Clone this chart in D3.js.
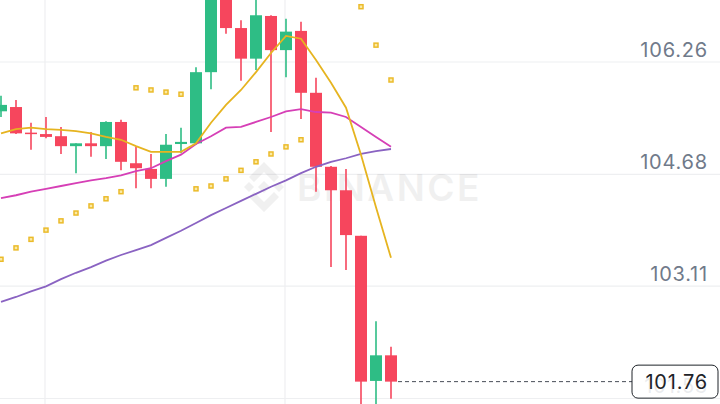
<!DOCTYPE html>
<html><head><meta charset="utf-8">
<script src="https://cdn.jsdelivr.net/npm/d3@7"></script>
<style>html,body{margin:0;padding:0;background:#fff;overflow:hidden}svg{display:block;font-family:Inter,Roboto,"Noto Sans",sans-serif}</style>
</head><body><svg id="c" width="720" height="404"></svg>
<script>
// ---- data ----
const categories = d3.range(27).map(i => "K" + (i + 1));
const open  = [105.56,105.62,105.26,105.24,105.21,105.07,105.11,105.07,105.41,104.83,104.75,104.61,105.10,105.11,106.11,107.25,106.73,106.30,106.90,106.42,106.69,105.82,104.78,104.45,103.81,101.77,102.13];
const close = [105.65,105.25,105.24,105.20,105.07,105.11,105.07,105.41,104.85,104.76,104.61,105.09,105.13,106.11,107.25,106.73,106.30,106.91,106.42,106.68,105.82,104.78,104.45,103.82,101.76,102.13,101.76];
const high  = [105.78,105.72,105.40,105.48,105.34,105.11,105.27,105.42,105.44,105.06,104.96,105.24,105.33,106.18,107.40,107.35,106.84,107.15,106.91,106.86,106.82,106.03,104.79,104.75,103.81,102.61,102.25];
const low   = [105.48,105.24,105.02,105.18,104.96,104.69,104.92,104.89,104.73,104.48,104.48,104.50,104.97,105.09,105.87,106.65,105.99,106.14,105.27,106.04,105.45,104.43,103.37,103.33,101.40,101.42,101.52];
const ma7   = [105.25,105.31,105.33,105.31,105.30,105.28,105.25,105.20,105.16,105.07,104.99,104.99,104.99,105.11,105.40,105.65,105.86,106.11,106.38,106.62,106.58,106.28,105.96,105.61,104.95,104.21,103.50];
const ma25  = [104.34,104.38,104.43,104.47,104.51,104.55,104.59,104.62,104.66,104.72,104.76,104.86,104.95,105.10,105.21,105.33,105.34,105.41,105.48,105.56,105.59,105.55,105.54,105.48,105.34,105.20,105.06];
const ma99  = [102.88,102.95,103.03,103.10,103.20,103.29,103.37,103.46,103.54,103.61,103.68,103.78,103.88,103.99,104.10,104.20,104.30,104.40,104.50,104.59,104.69,104.78,104.85,104.90,104.96,105.00,105.03];
const sar   = [103.48,103.64,103.76,103.89,104.02,104.13,104.23,104.33,104.43,105.89,105.86,105.83,105.80,104.47,104.51,104.61,104.73,104.85,104.96,105.06,105.16,null,null,null,107.03,106.49,106.00];
const priceTicks = [106.26, 104.68, 103.11, 101.53];
const timeGridIdx = [3, 19];
const lastPrice = 101.76;

// ---- drawing ----
const W = 720, H = 404;
const svg = d3.select("#c");
const x = d3.scalePoint().domain(categories).range([1, 391]);
const y = d3.scaleLinear().domain([101.53, 106.26]).range([398, 61.5]);
const GREEN = "#2ebd85", RED = "#f6465d";

// grid
const gy = d3.axisRight(y).tickValues(priceTicks).tickSize(W).tickFormat("");
svg.append("g").call(gy).call(g => {
  g.select(".domain").remove();
  g.selectAll("line").attr("stroke", "#eeeff1").attr("stroke-width", 1.2);
});
svg.append("g").selectAll("line").data(timeGridIdx).join("line")
  .attr("x1", i => x(categories[i]) - 1).attr("x2", i => x(categories[i]) - 1)
  .attr("y1", 0).attr("y2", H).attr("stroke", "#eeeff1").attr("stroke-width", 1.2);

// watermark
const wm = svg.append("g").attr("fill", "#000").attr("opacity", 0.055);
const lc = [264, 187];
const dia = (cx, cy, r) => `M${cx},${cy-r}L${cx+r},${cy}L${cx},${cy+r}L${cx-r},${cy}Z`;
wm.append("path").attr("d", dia(lc[0], lc[1], 6));
wm.append("path").attr("d", dia(lc[0]-15, lc[1], 5));
wm.append("path").attr("d", dia(lc[0]+15, lc[1], 5));
wm.append("path").attr("d", `M${lc[0]},${lc[1]-25}L${lc[0]+15},${lc[1]-10}L${lc[0]+10},${lc[1]-5}L${lc[0]},${lc[1]-15}L${lc[0]-10},${lc[1]-5}L${lc[0]-15},${lc[1]-10}Z`);
wm.append("path").attr("d", `M${lc[0]},${lc[1]+25}L${lc[0]+15},${lc[1]+10}L${lc[0]+10},${lc[1]+5}L${lc[0]},${lc[1]+15}L${lc[0]-10},${lc[1]+5}L${lc[0]-15},${lc[1]+10}Z`);
wm.append("text").attr("x", 297).attr("y", 201).attr("font-size", 37).attr("font-weight", 600)
  .attr("letter-spacing", 2.5).text("BINANCE");

// candles
const idx = d3.range(categories.length);
const cg = svg.append("g");
cg.selectAll("line").data(idx).join("line")
  .attr("x1", i => x(categories[i])).attr("x2", i => x(categories[i]))
  .attr("y1", i => y(high[i])).attr("y2", i => y(low[i]))
  .attr("stroke", i => close[i] >= open[i] ? GREEN : RED).attr("stroke-width", 1.6);
cg.selectAll("rect").data(idx).join("rect")
  .attr("x", i => x(categories[i]) - 6).attr("width", 12)
  .attr("y", i => y(Math.max(open[i], close[i])))
  .attr("height", i => Math.max(1.5, Math.abs(y(open[i]) - y(close[i]))))
  .attr("fill", i => close[i] >= open[i] ? GREEN : RED);

// MA lines
const line = arr => d3.line().x((d, i) => x(categories[i])).y(d => y(d)).curve(d3.curveLinear)(arr);
svg.append("path").attr("d", line(ma99)).attr("fill", "none").attr("stroke", "#8a63c2").attr("stroke-width", 1.8);
svg.append("path").attr("d", line(ma25)).attr("fill", "none").attr("stroke", "#d63fb6").attr("stroke-width", 1.8);
svg.append("path").attr("d", line(ma7)).attr("fill", "none").attr("stroke", "#e6b420").attr("stroke-width", 1.8);

// SAR dots
svg.append("g").selectAll("rect").data(idx.filter(i => sar[i] != null)).join("rect")
  .attr("x", i => x(categories[i]) - 2).attr("y", i => y(sar[i]) - 2)
  .attr("width", 4).attr("height", 4)
  .attr("fill", "#faeaa6").attr("stroke", "#ebbb2a").attr("stroke-width", 1.5);

// axis labels
svg.append("g").selectAll("text").data(priceTicks).join("text")
  .attr("x", 708).attr("y", d => y(d) - 5).attr("text-anchor", "end")
  .attr("font-size", 20).attr("letter-spacing", 0.8).attr("fill", "#707a8a").text(d => d.toFixed(2));

// last price line + box
const ly = y(lastPrice);
svg.append("line").attr("x1", x(categories[categories.length - 1]) + 7).attr("x2", 632)
  .attr("y1", ly).attr("y2", ly).attr("stroke", "#474d57").attr("stroke-width", 1).attr("stroke-dasharray", "4,3");
svg.append("rect").attr("x", 632).attr("y", ly - 16.5).attr("width", 86).attr("height", 33).attr("rx", 6)
  .attr("fill", "rgba(255,255,255,0.85)").attr("stroke", "#1e2329").attr("stroke-width", 1);
svg.append("text").attr("x", 708).attr("y", ly + 7).attr("text-anchor", "end")
  .attr("font-size", 20).attr("letter-spacing", 0.8).attr("fill", "#1e2329").text(lastPrice.toFixed(2));
</script></body></html>
